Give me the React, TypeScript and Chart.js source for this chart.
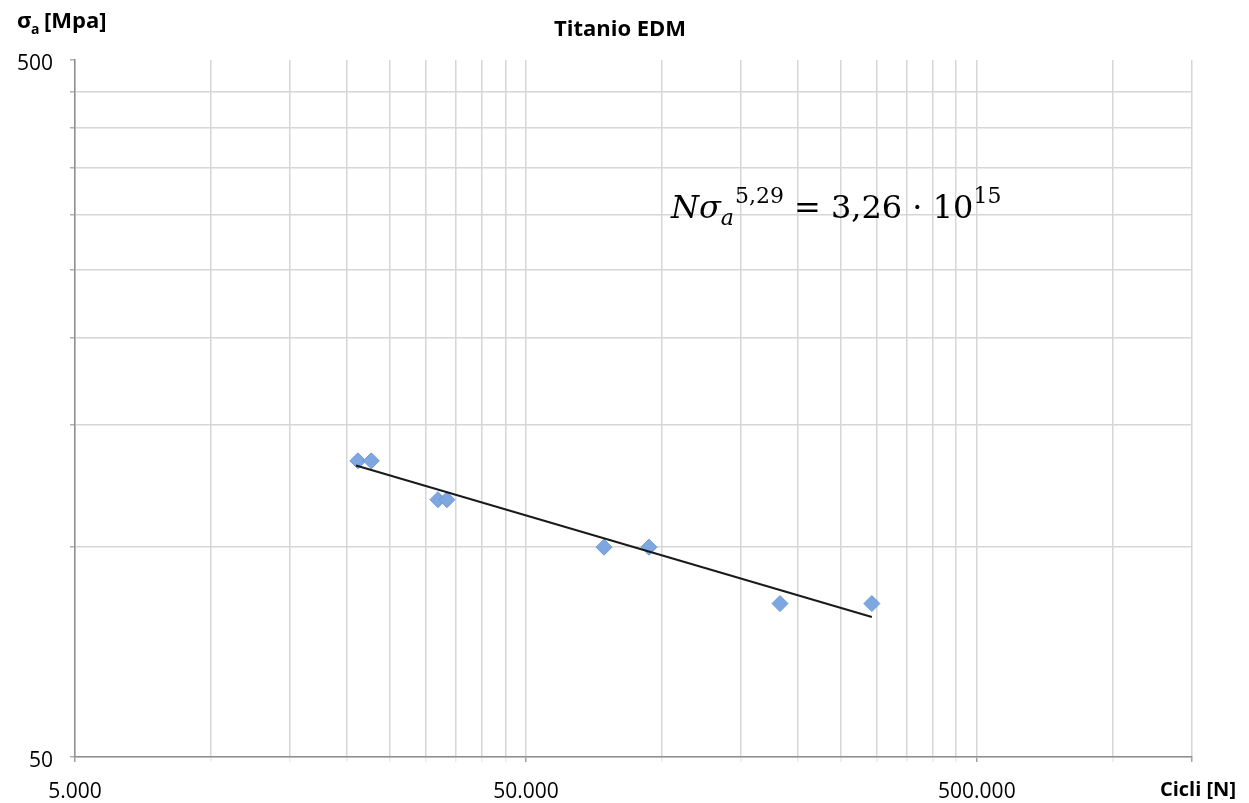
import React, { useEffect, useRef } from "react";
import { Chart, registerables } from "chart.js";

Chart.register(...registerables);

// Data
const cicli: number[] = [21200, 22700, 31900, 33400, 74500, 93700, 183000, 292500];
const sigma: number[] = [133, 133, 117, 117, 100, 100, 83, 83];

// trend line end points
const trendCicli: number[] = [21000, 292500];
const trendSigma: number[] = [131, 79.4];

// Axis ticks / grid values
const xGridValues: number[] = [
  5000, 10000, 15000, 20000, 25000, 30000, 35000, 40000, 45000, 50000,
  100000, 150000, 200000, 250000, 300000, 350000, 400000, 450000, 500000,
  1000000, 1500000,
];
const xLabeled: number[] = [5000, 50000, 500000];
const yGridValues: number[] = [50, 100, 150, 200, 250, 300, 350, 400, 450, 500];
const yLabeled: number[] = [50, 500];

const chartTitle = "Titanio EDM";
const xTitle = "Cicli [N]";

const FONT = "'Open Sans', 'DejaVu Sans', sans-serif";

const fmt = (v: number) => v.toLocaleString("de-DE");

const textPlugin = {
  id: "texts",
  afterDraw(chart: any) {
    const ctx = chart.ctx as CanvasRenderingContext2D;
    ctx.save();
    ctx.fillStyle = "#000";
    ctx.textBaseline = "alphabetic";
    // Title
    ctx.font = `bold 22px ${FONT}`;
    ctx.textAlign = "center";
    ctx.fillText(chartTitle, 620, 36);
    // Y axis title: σa [Mpa]
    ctx.textAlign = "left";
    ctx.font = `bold 22px ${FONT}`;
    ctx.fillText("σ", 17, 28);
    ctx.font = `bold 14px ${FONT}`;
    ctx.fillText("a", 31, 34);
    ctx.font = `bold 22px ${FONT}`;
    ctx.fillText("[Mpa]", 44, 28);
    // X axis title
    ctx.textAlign = "right";
    ctx.font = `bold 20px ${FONT}`;
    ctx.fillText(xTitle, 1236, 796);

    // Y tick labels (positions from the y scale)
    const ys = chart.scales.y;
    ctx.font = `21px ${FONT}`;
    ctx.textAlign = "right";
    ctx.textBaseline = "middle";
    yLabeled.forEach((v) => {
      ctx.fillText(String(v), 53, ys.getPixelForValue(v) + 4);
    });

    // Equation
    ctx.textBaseline = "alphabetic";
    const serif = "'DejaVu Serif', 'Liberation Serif', serif";
    const base = 218;
    let x = 671;
    ctx.textAlign = "left";
    ctx.font = `italic 32px ${serif}`;
    ctx.fillText("N", x, base);
    x += ctx.measureText("N").width;
    ctx.fillText("σ", x, base);
    x += ctx.measureText("σ").width;
    ctx.font = `italic 22px ${serif}`;
    ctx.fillText("a", x, base + 7);
    x += ctx.measureText("a").width + 1;
    ctx.font = `22px ${serif}`;
    ctx.fillText("5,29", x, base - 15);
    x += ctx.measureText("5,29").width + 10;
    ctx.font = `32px ${serif}`;
    const mid = "= 3,26 · 10";
    ctx.fillText(mid, x, base);
    x += ctx.measureText(mid).width;
    ctx.font = `22px ${serif}`;
    ctx.fillText("15", x, base - 15);
    ctx.restore();
  },
};

export default function App() {
  const ref = useRef<HTMLCanvasElement | null>(null);
  useEffect(() => {
    if (!ref.current) return;
    const chart = new Chart(ref.current, {
      type: "scatter",
      data: {
        datasets: [
          {
            type: "line",
            data: trendCicli.map((c, i) => ({ x: c, y: trendSigma[i] })),
            borderColor: "#1a1a1a",
            borderWidth: 2,
            pointRadius: 0,
            fill: false,
          } as any,
          {
            data: cicli.map((c, i) => ({ x: c, y: sigma[i] })),
            pointStyle: "rectRot",
            pointRadius: 8,
            backgroundColor: "#7ea7e0",
            borderColor: "#6a98d8",
            borderWidth: 1,
          },
        ],
      },
      options: {
        responsive: false,
        animation: false,
        layout: { padding: { top: 60, right: 57, left: 0, bottom: 0 } },
        plugins: {
          legend: { display: false },
          tooltip: { enabled: false },
          title: { display: false },
        },
        scales: {
          x: {
            type: "logarithmic",
            min: 5000,
            max: 1500000,
            afterBuildTicks: (s: any) => {
              s.ticks = xGridValues.map((v) => ({ value: v }));
            },
            afterFit: (s: any) => {
              s.height = 46;
            },
            ticks: {
              autoSkip: false,
              maxRotation: 0,
              padding: 17,
              color: "#000",
              font: { family: FONT, size: 21 },
              callback: (v: any) => (xLabeled.includes(Number(v)) ? fmt(Number(v)) : ""),
            },
            grid: {
              color: "#d6d6d6",
              lineWidth: 1.5,
              tickLength: 5,
              tickColor: (c: any) =>
                c.tick && (xLabeled.includes(c.tick.value) || c.tick.value === 1500000) ? "#a0a0a0" : "#ececec",
            },
            border: { display: true, color: "#8f8f8f", width: 1.5 },
          },
          y: {
            type: "logarithmic",
            min: 50,
            max: 500,
            afterBuildTicks: (s: any) => {
              s.ticks = yGridValues.map((v) => ({ value: v }));
            },
            afterFit: (s: any) => {
              s.width = 75;
            },
            ticks: {
              autoSkip: false,
              padding: 18,
              color: "#000",
              font: { family: FONT, size: 21 },
              callback: () => "",
            },
            grid: {
              color: (c: any) => (c.tick && c.tick.value === 500 ? "rgba(0,0,0,0)" : "#d6d6d6"),
              lineWidth: 1.5,
              tickLength: 5,
              tickColor: "#b0b0b0",
            },
            border: { display: true, color: "#8f8f8f", width: 1.5 },
          },
        },
      },
      plugins: [textPlugin],
    } as any);
    return () => chart.destroy();
  }, []);
  return (
    <div style={{ position: "absolute", left: 0, top: 0, width: 1249, height: 803, background: "#fff" }}>
      <canvas ref={ref} width={1249} height={803} />
    </div>
  );
}
